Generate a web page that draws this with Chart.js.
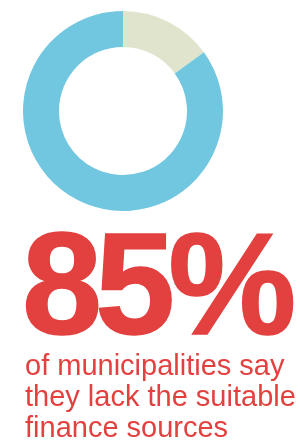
<!DOCTYPE html>
<html>
<head>
<meta charset="utf-8">
<script src="https://cdn.jsdelivr.net/npm/chart.js@4"></script>
<style>
  body { margin: 0; background: #fff; width: 300px; height: 441px; overflow: hidden; position: relative; }
  .donut { position: absolute; left: 23px; top: 11px; width: 200px; height: 200px; }
  .big {
    position: absolute; left: 22px; top: 213px;
    font: bold 144px "Liberation Sans", Arial, sans-serif;
    letter-spacing: -7px;
    -webkit-text-stroke: 1.5px #e2413f;
    line-height: 1; color: #e2413f; white-space: nowrap;
  }
  .caption {
    position: absolute; left: 25px; top: 350px;
    font: 29px "Liberation Sans", sans-serif;
    line-height: 31px; color: #e2413f; white-space: nowrap;
  }
</style>
</head>
<body>
<div class="donut"><canvas id="donutChart"></canvas></div>
<div class="big" id="bigValue"></div>
<div class="caption" id="caption"></div>
<script>
// values
const labels = ["Have suitable finance sources", "Lack suitable finance sources"];
const shares = [15, 85];
const colors = ["#e0e4cc", "#71c7e0"];
const captionLines = ["of municipalities say", "they lack the suitable", "finance sources"];

document.getElementById("bigValue").innerText = shares[1] + "%";
document.getElementById("caption").innerHTML = captionLines.join("<br>");

new Chart(document.getElementById("donutChart"), {
    type: "doughnut",
    data: {
        labels: labels,
        datasets: [{
            data: shares,
            backgroundColor: colors,
            borderWidth: 0
        }]
    },
    options: {
        responsive: true,
        maintainAspectRatio: false,
        animation: false,
        cutout: "64%",
        layout: { padding: 0 },
        plugins: {
            legend: { display: false },
            tooltip: { enabled: false }
        }
    }
});
</script>
</body>
</html>
